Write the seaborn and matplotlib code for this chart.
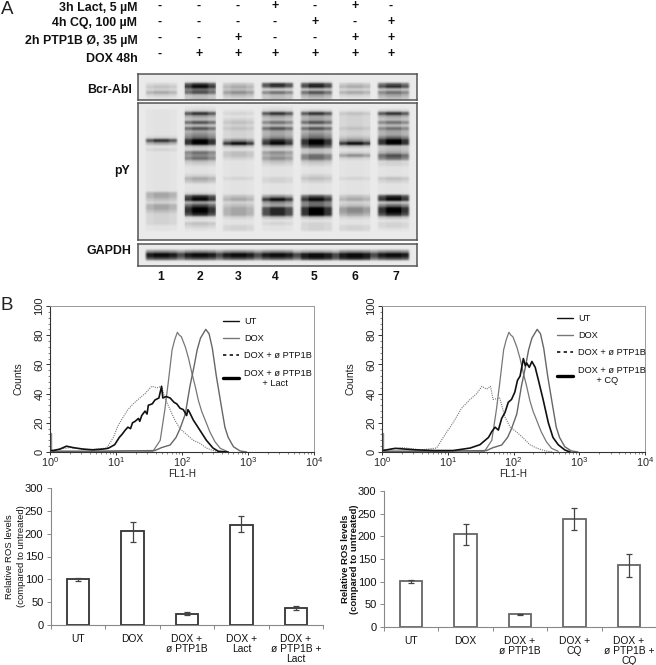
import numpy as np
import pandas as pd
import matplotlib
matplotlib.use("Agg")
import matplotlib.pyplot as plt
import seaborn as sns
from matplotlib.lines import Line2D
from matplotlib.ticker import FixedLocator, NullFormatter

sns.set_theme(style="white")
plt.rcParams["font.family"] = ["Liberation Sans", "DejaVu Sans"]
plt.rcParams["mathtext.default"] = "regular"

W, H = 656, 665

# treatment table above the blot
treat_labels = ["3h Lact, 5 µM", "4h CQ, 100 µM", "2h PTP1B Ø, 35 µM", "DOX 48h"]
treat_signs = [
    ["-", "-", "-", "+", "-", "+", "-"],
    ["-", "-", "-", "-", "+", "-", "+"],
    ["-", "-", "+", "-", "-", "+", "+"],
    ["-", "+", "+", "+", "+", "+", "+"],
]
lane_names = ["1", "2", "3", "4", "5", "6", "7"]

# band darkness 0-9, one row per strip of the blot, one column per lane
bcr_abl = [
    [0, 0, 0, 0, 0, 0, 0],
    [0, 0, 0, 0, 0, 0, 0],
    [0, 1, 0, 0, 1, 0, 0],
    [2, 8, 3, 8, 8, 3, 7],
    [3, 9, 4, 7, 8, 4, 8],
    [2, 6, 3, 2, 3, 2, 3],
    [4, 7, 5, 6, 7, 4, 6],
    [2, 3, 3, 3, 4, 2, 4],
    [1, 3, 2, 3, 3, 1, 3],
]
py_blot = [
    [0, 0, 0, 0, 0, 0, 0],
    [0, 1, 0, 1, 0, 0, 0],
    [1, 2, 1, 2, 2, 1, 2],
    [1, 8, 2, 8, 8, 3, 8],
    [1, 4, 1, 4, 4, 2, 4],
    [1, 3, 2, 3, 4, 2, 3],
    [1, 7, 3, 6, 7, 2, 6],
    [1, 3, 2, 3, 3, 2, 3],
    [1, 7, 3, 7, 7, 3, 6],
    [1, 4, 2, 4, 4, 2, 4],
    [1, 5, 2, 4, 5, 2, 4],
    [2, 6, 2, 5, 6, 3, 6],
    [8, 9, 5, 8, 9, 5, 9],
    [4, 9, 9, 9, 9, 9, 9],
    [1, 3, 3, 4, 7, 3, 3],
    [2, 2, 1, 2, 3, 1, 3],
    [1, 6, 3, 5, 3, 2, 4],
    [1, 5, 3, 4, 6, 5, 7],
    [1, 6, 2, 5, 6, 2, 6],
    [1, 3, 1, 3, 3, 1, 2],
    [1, 2, 1, 2, 2, 1, 2],
    [1, 1, 1, 1, 1, 1, 1],
    [1, 1, 1, 1, 1, 1, 1],
    [1, 1, 1, 1, 1, 1, 1],
    [1, 2, 1, 1, 2, 1, 1],
    [1, 4, 2, 2, 3, 2, 3],
    [1, 3, 1, 2, 2, 1, 2],
    [1, 1, 1, 1, 1, 1, 1],
    [1, 1, 1, 1, 1, 1, 1],
    [1, 1, 1, 1, 1, 1, 1],
    [4, 2, 1, 1, 1, 1, 1],
    [4, 8, 3, 5, 7, 3, 8],
    [3, 9, 4, 9, 9, 4, 9],
    [2, 4, 2, 5, 6, 2, 3],
    [4, 7, 3, 4, 6, 3, 6],
    [4, 9, 4, 8, 9, 5, 9],
    [3, 9, 4, 8, 9, 5, 9],
    [2, 8, 4, 8, 9, 4, 8],
    [2, 2, 2, 3, 3, 2, 3],
    [2, 1, 1, 1, 1, 1, 1],
    [2, 3, 1, 2, 2, 1, 2],
    [1, 2, 2, 1, 2, 2, 2],
    [1, 1, 2, 1, 2, 2, 1],
    [0, 0, 0, 0, 0, 0, 0],
    [0, 0, 0, 0, 0, 0, 0],
    [0, 0, 0, 0, 0, 0, 0],
]
gapdh = [
    [0, 0, 0, 0, 0, 0, 0],
    [0, 0, 0, 0, 0, 0, 0],
    [5, 5, 5, 5, 4, 5, 5],
    [9, 9, 9, 9, 9, 9, 9],
    [7, 7, 7, 7, 8, 8, 7],
    [0, 0, 0, 0, 0, 0, 0],
    [0, 0, 0, 0, 0, 0, 0],
]

# flow cytometry histograms, x in decades of FL1-H
ut_x = [0.0, 0.5, 1.2, 1.56, 1.67, 1.74, 1.79, 1.85, 1.89, 1.93, 1.96, 1.99, 2.05, 2.1, 2.15, 2.2, 2.25, 2.3, 2.35, 2.42, 2.5, 2.58, 2.68]
ut_y = [0.5, 0.4, 0.8, 0.5, 8, 29, 47, 70, 77, 82, 80, 79, 72, 64, 54, 45, 35, 27.6, 22, 14, 7, 2.5, 0.5]
dox_x = [0.0, 0.8, 1.3, 1.59, 1.69, 1.82, 1.91, 1.97, 2.05, 2.12, 2.18, 2.23, 2.28, 2.32, 2.36, 2.41, 2.46, 2.52, 2.59, 2.65, 2.7, 2.78, 2.88, 2.98]
dox_y = [0.5, 0.5, 0.8, 1, 3, 4.8, 10, 16, 26, 45, 58, 70, 78, 81, 84, 81, 71, 52, 33, 17, 10, 3.6, 0.7, 0]
ptp_x = [0.0, 0.3, 0.6, 0.86, 0.96, 1.03, 1.11, 1.18, 1.26, 1.36, 1.44, 1.54, 1.62, 1.69, 1.74, 1.82, 1.89, 1.97, 2.07, 2.17, 2.27, 2.37, 2.47, 2.6]
ptp_y = [1, 3, 1.5, 2.7, 10, 18, 24, 29, 33, 37, 40, 45, 44, 45, 37, 29, 22, 16, 12, 8, 6, 2.7, 1, 0]
lact_x = [0.01, 0.05, 0.15, 0.25, 0.35, 0.5, 0.65, 0.8, 0.88, 0.98, 1.05, 1.09, 1.14, 1.18, 1.22, 1.25, 1.29, 1.34, 1.36, 1.39, 1.44, 1.47, 1.49, 1.55, 1.59, 1.65, 1.69, 1.71, 1.76, 1.82, 1.88, 1.92, 1.97, 2.02, 2.07, 2.09, 2.11, 2.17, 2.27, 2.37, 2.47, 2.55, 2.7]
lact_y = [1, 1, 2, 4, 3, 2, 1.5, 2, 2.5, 5, 10, 12, 15, 17, 16, 20, 21, 23, 21, 25, 28, 26, 32, 33, 35.6, 37, 45, 37, 38, 37, 34, 33, 30, 29, 25, 29, 27.6, 22, 15, 8, 2.7, 0.5, 0]
ptp2_x = [0.0, 0.3, 0.6, 0.83, 0.96, 1.08, 1.21, 1.34, 1.44, 1.52, 1.59, 1.65, 1.69, 1.79, 1.87, 1.95, 2.04, 2.15, 2.25, 2.35, 2.48, 2.6]
ptp2_y = [1, 3, 1.5, 2.7, 12, 20, 30, 36, 40, 45, 43, 45, 36, 37, 24, 17, 14, 9.5, 5, 2.7, 0.8, 0]
cq_x = [0.01, 0.2, 0.5, 0.8, 1.08, 1.34, 1.49, 1.62, 1.67, 1.72, 1.77, 1.82, 1.87, 1.92, 1.97, 2.02, 2.06, 2.1, 2.15, 2.18, 2.2, 2.24, 2.28, 2.33, 2.38, 2.45, 2.53, 2.6, 2.68, 2.78, 2.86]
cq_y = [1, 2.5, 1.5, 1, 1, 2.7, 5, 10, 14, 17, 15, 23, 27, 34, 36, 41, 49, 52, 64, 59, 61, 58, 62, 58, 49, 36, 20, 10, 5, 1.4, 0]
spike_x = [0.008, 0.008]
spike_y = [0, 13]

# ROS bars
lact_groups = ["UT", "DOX", "DOX +\nø PTP1B", "DOX +\nLact", "DOX +\nø PTP1B +\nLact"]
lact_ros = [100, 205, 25, 220, 37]
lact_low = [96, 181, 22, 203, 32]
lact_high = [104, 226, 29, 238, 42]
cq_groups = ["UT", "DOX", "DOX +\nø PTP1B", "DOX +\nCQ", "DOX +\nø PTP1B +\nCQ"]
cq_ros = [101, 205, 28, 238, 136]
cq_low = [97, 181, 27, 214, 111]
cq_high = [104, 227, 29, 262, 161]

fig = plt.figure(figsize=(W / 100, H / 100), dpi=100)


def axes_px(x0, y0, x1, y1):
    return fig.add_axes([x0 / W, 1 - y1 / H, (x1 - x0) / W, (y1 - y0) / H])


def text_px(x, y, s, **kw):
    kw.setdefault("color", "#111111")
    kw.setdefault("va", "center")
    fig.text(x / W, 1 - y / H, s, **kw)


def soften(grid, passes=2):
    # the scan is soft, so run a small [1 2 1] kernel along both directions
    kernel = np.array([1, 2, 1]) / 4
    for _ in range(passes):
        padded = np.pad(grid, ((1, 1), (0, 0)), mode="edge")
        grid = np.apply_along_axis(lambda c: np.convolve(c, kernel, mode="valid"), 0, padded)
        padded = np.pad(grid, ((0, 0), (1, 1)), mode="edge")
        grid = np.apply_along_axis(lambda r: np.convolve(r, kernel, mode="valid"), 1, padded)
    return grid


def draw_blot(rows, box, edge=0.85, gap=0.0):
    # every lane is 4 cells wide with 1 cell of gap, outer cells a bit lighter
    rows = np.array(rows, dtype=float)
    grid = np.zeros((rows.shape[0], 36))
    for lane in range(7):
        c = 1 + lane * 5
        grid[:, c] = rows[:, lane] * edge
        grid[:, c + 1] = rows[:, lane]
        grid[:, c + 2] = rows[:, lane]
        grid[:, c + 3] = rows[:, lane] * edge
        if lane < 6:
            grid[:, c + 4] = np.minimum(rows[:, lane], rows[:, lane + 1]) * gap
    grid = (grid / 9) ** 1.5
    grid = np.repeat(np.repeat(grid, 3, axis=0), 8, axis=1)
    grid = soften(grid)
    ax = axes_px(*box)
    sns.heatmap(pd.DataFrame(grid), ax=ax, cmap="gray_r", vmin=-0.09, vmax=1.0, cbar=False,
                xticklabels=False, yticklabels=False)
    for s in ax.spines.values():
        s.set_visible(True)
        s.set_color("#555555")
        s.set_linewidth(1.1)
    return ax


def draw_hist(box, curves, legend_names, legend_anchor):
    ax = axes_px(*box)
    for xs, ys, color, lw, ls in curves:
        sns.lineplot(x=10.0 ** np.array(xs), y=ys, ax=ax, color=color, linewidth=lw, linestyle=ls,
                     sort=False, estimator=None, errorbar=None, legend=False)
    ax.set_xscale("log")
    ax.set_xlim(1, 1e4)
    ax.set_ylim(0, 100)
    ax.set_xticks([1, 10, 100, 1000, 10000])
    ax.set_xticklabels(["$10^{0}$", "$10^{1}$", "$10^{2}$", "$10^{3}$", "$10^{4}$"], fontsize=7.8)
    ax.xaxis.set_minor_locator(FixedLocator([m * d for d in [1, 10, 100, 1000] for m in range(2, 10)]))
    ax.xaxis.set_minor_formatter(NullFormatter())
    ax.set_yticks([0, 20, 40, 60, 80, 100])
    ax.set_yticks(range(0, 101, 4), minor=True)
    ax.tick_params(axis="y", which="major", left=True, length=3, width=0.7, pad=1, labelsize=8, labelrotation=90, color="#333333")
    ax.tick_params(axis="y", which="minor", left=True, length=1.5, width=0.5, color="#555555")
    ax.tick_params(axis="x", which="major", bottom=True, length=2, width=0.7, pad=0, color="#333333")
    ax.tick_params(axis="x", which="minor", bottom=True, length=1.5, width=0.5, color="#555555")
    for lab in ax.get_yticklabels():
        lab.set_va("center")
        lab.set_color("#222222")
    for s in ["top", "right"]:
        ax.spines[s].set_color("#999999")
        ax.spines[s].set_linewidth(0.7)
    for s in ["left", "bottom"]:
        ax.spines[s].set_color("#333333")
        ax.spines[s].set_linewidth(0.8)
    ax.set_ylabel("Counts", fontsize=7.5, color="#222222")
    ax.yaxis.set_label_coords(-26 / (box[2] - box[0]), 0.5)
    ax.set_xlabel("FL1-H", fontsize=7.2, color="#222222")
    ax.xaxis.set_label_coords(0.5, -22 / (box[3] - box[1]))
    ax.xaxis.label.set_va("center")
    handles = [
        Line2D([], [], color="#111111", lw=1.0),
        Line2D([], [], color="#777777", lw=1.0),
        Line2D([], [], color="#111111", lw=1.2, ls=(0, (2, 2))),
        Line2D([], [], color="#000000", lw=2.4),
    ]
    ax.legend(handles, legend_names, loc="upper left", bbox_to_anchor=legend_anchor, frameon=False,
              fontsize=6.7, handlelength=1.7, handletextpad=0.6, labelspacing=0.88,
              borderpad=0, borderaxespad=0, labelcolor="#111111")
    return ax


def draw_bars(box, groups, values, low, high, edge, ylab_weight, ylab_x, ylab_space):
    ax = axes_px(*box)
    sns.barplot(x=list(range(5)), y=values, ax=ax, fill=False, width=0.41, edgecolor=edge, linewidth=1.3,
                errorbar=None, color="white")
    vals = np.array(values)
    ax.errorbar(range(5), vals, yerr=[vals - np.array(low), np.array(high) - vals], fmt="none",
                ecolor="#444444", elinewidth=0.9, capsize=2.4, capthick=0.9)
    ax.set_xlim(-0.5, 4.5)
    ax.set_ylim(0, 300)
    ax.set_yticks([0, 50, 100, 150, 200, 250, 300])
    ax.set_xticks(range(5))
    ax.set_xticklabels(groups, fontsize=7.4, color="#111111", linespacing=0.98)
    ax.set_xticks(np.arange(-0.5, 5), minor=True)
    ax.tick_params(axis="x", which="major", bottom=False, pad=0.5)
    ax.tick_params(axis="x", which="minor", bottom=True, length=3, width=0.7, color="#888888")
    ax.tick_params(axis="y", left=True, length=3, width=0.7, pad=2.5, labelsize=8, color="#888888", labelcolor="#111111")
    for s in ["top", "right"]:
        ax.spines[s].set_visible(False)
    for s in ["left", "bottom"]:
        ax.spines[s].set_color("#888888")
        ax.spines[s].set_linewidth(0.8)
    ax.set_ylabel("Relative ROS levels\n(compared to untreated)", fontsize=6.8, color="#111111",
                  fontweight=ylab_weight, linespacing=ylab_space, va="center")
    ax.yaxis.set_label_coords((ylab_x - box[0]) / (box[2] - box[0]), 0.5)
    return ax


# panel A
text_px(7, 9.5, "A", fontsize=13.5, ha="center", color="#222222")
text_px(7, 306, "B", fontsize=13.5, ha="center", color="#222222")

label_y = [8, 23, 41, 59]
sign_y = [6, 22, 38, 54]
sign_x = [160, 199, 238, 275, 315, 355, 391]
for label, ly, sy, signs in zip(treat_labels, label_y, sign_y, treat_signs):
    text_px(137.5, ly, label, ha="right", fontsize=8.9, fontweight="bold")
    for sx, sign in zip(sign_x, signs):
        text_px(sx, sy, sign, ha="center", fontsize=8.9, fontweight="bold")

draw_blot(bcr_abl, (138, 74, 417, 100))
draw_blot(py_blot, (138, 103, 417, 240))
draw_blot(gapdh, (138, 244, 417, 266), edge=0.95, gap=0.8)

text_px(132, 90, "Bcr-Abl", ha="right", fontsize=8.9, fontweight="bold")
text_px(130, 171, "pY", ha="right", fontsize=8.9, fontweight="bold")
text_px(131.5, 251, "GAPDH", ha="right", fontsize=8.9, fontweight="bold")
for lane_x, name in zip([161, 200, 238, 275, 314, 355, 396], lane_names):
    text_px(lane_x, 276.5, name, ha="center", fontsize=8.7, fontweight="bold")

# panel B histograms
left_curves = [
    (ut_x, ut_y, "#777777", 0.9, "-"),
    (dox_x, dox_y, "#666666", 1.0, "-"),
    (ptp_x, ptp_y, "#777777", 0.8, (0, (1, 1))),
    (spike_x, spike_y, "#888888", 1.0, "-"),
    (lact_x, lact_y, "#111111", 1.2, "-"),
]
right_curves = [
    (ut_x, ut_y, "#777777", 0.9, "-"),
    (dox_x, dox_y, "#666666", 1.0, "-"),
    (ptp2_x, ptp2_y, "#777777", 0.8, (0, (1, 1))),
    (spike_x, spike_y, "#888888", 1.0, "-"),
    (cq_x, cq_y, "#111111", 1.2, "-"),
]
draw_hist((50, 306, 314, 452), left_curves,
          ["UT", "DOX", "DOX + ø PTP1B", "DOX + ø PTP1B\n       + Lact"], (0.655, 0.925))
draw_hist((382, 306, 645, 452), right_curves,
          ["UT", "DOX", "DOX + ø PTP1B", "DOX + ø PTP1B\n       + CQ"], (0.665, 0.945))

# panel B bars
draw_bars((51, 488, 323, 625), lact_groups, lact_ros, lact_low, lact_high, "#333333", "normal", 15.5, 1.45)
draw_bars((384, 491, 656, 627), cq_groups, cq_ros, cq_low, cq_high, "#666666", "bold", 350, 1.0)

plt.savefig("out.png", dpi=100)
